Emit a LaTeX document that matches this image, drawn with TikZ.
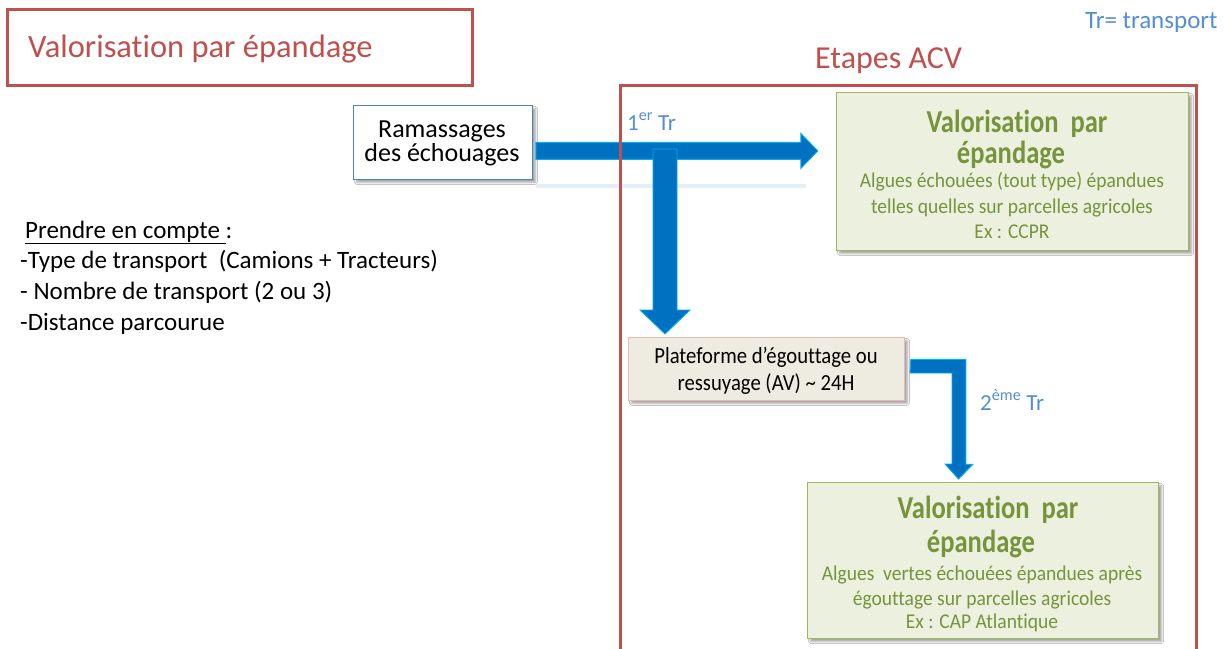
\documentclass[tikz,border=0pt]{standalone}
\usepackage{fontspec}
\defaultfontfeatures{Ligatures={NoCommon}}
\setmainfont{Carlito}
\newfontfamily\plateFont{Carlito}[FakeStretch=0.9]
\newfontfamily\bodyFont{Carlito}[FakeStretch=0.93]
\newfontfamily\headFont{Carlito}[FakeStretch=0.83]
\usetikzlibrary{calc,shadows.blur}
\definecolor{acvred}{HTML}{C0504D}
\definecolor{trblue}{HTML}{558ED5}
\definecolor{arrowfill}{HTML}{0070C0}
\definecolor{arrowedge}{HTML}{00B0F0}
\definecolor{ramedge}{HTML}{4F81BD}
\definecolor{platefill}{HTML}{EEECE1}
\definecolor{plateedge}{HTML}{E6B9B8}
\definecolor{greenfill}{HTML}{EBF1DE}
\definecolor{greenedge}{HTML}{9BBB59}
\definecolor{greentext}{HTML}{77933C}
\definecolor{glow}{HTML}{E6EFF8}
\newcommand{\fs}[1]{\fontsize{#1}{#1}\selectfont}
\begin{document}
\begin{tikzpicture}[x=1pt,y=-1pt,
  txt/.style={inner sep=0pt, anchor=base},
  txtw/.style={inner sep=0pt, anchor=base west},
  boxshadow/.style={blur shadow={shadow xshift=3pt, shadow yshift=-3pt, shadow blur steps=6, shadow opacity=35}},
  redframe/.style={draw=acvred, line width=3pt, inner sep=0pt, anchor=north west},
  rambox/.style={draw=ramedge, line width=0.8pt, fill=white, inner sep=0pt, anchor=north west, boxshadow},
  platebox/.style={draw=plateedge, line width=0.8pt, fill=platefill, inner sep=0pt, anchor=north west, boxshadow},
  greenbox/.style={draw=greenedge, line width=1.2pt, fill=greenfill, inner sep=0pt, anchor=north west, boxshadow},
  blockarrow/.style={fill=arrowfill, draw=arrowedge, line width=0.9pt, line join=miter},
  gtitle/.style={txt, text=greentext, font=\headFont\bfseries\fs{32}},
  gbody/.style={txt, text=greentext, font=\bodyFont\fs{21}},
  trlabel/.style={txtw, text=trblue, font=\fs{23}},
  note/.style={txtw, font=\fs{25}}
]
\useasboundingbox (0,0) rectangle (1229,648);
\fill[white] (0,0) rectangle (1229,648);

% heading
\node[redframe, minimum width=465pt, minimum height=76pt] (titlebox) at (6,8) {};
\node[txtw, text=acvred, font=\fs{32.5}] (title) at (28,57) {Valorisation par épandage};
\node[txtw, text=trblue, font=\fs{25}] (legend) at (1085,28) {Tr= transport};
\node[txtw, text=acvred, font=\fs{32}] (acvlabel) at (815,68) {Etapes ACV};

% notes on the left
\node[note] (note0) at (25,238) {\underline{Prendre en compte }:};
\node[note] (note1) at (20,268) {-Type de transport\ \ (Camions + Tracteurs)};
\node[note] (note2) at (20,299) {- Nombre de transport (2 ou 3)};
\node[note] (note3) at (20,330) {-Distance parcourue};

% collection box
\node[rambox, minimum width=179pt, minimum height=74pt] (ram) at (353,105) {};
\node[txt, font=\fs{26}] (ramA) at (442,137) {Ramassages};
\node[txt, font=\fs{26}] (ramB) at (442,161) {des échouages};

% first transport: horizontal block arrow with its faint reflection
\coordinate (h0) at ($(ram.east)+(3,8.5)$);
\fill[glow] ($(h0)+(0,33)$) rectangle ++(270,4);
\draw[blockarrow] ($(h0)+(0,-8.5)$) -- ++(265,0) -- ++(0,-9) -- ++(17,17.5)
  -- ++(-17,17.5) -- ++(0,-9) -- ++(-265,0) -- cycle;

% branch down to the draining platform
\node[platebox, minimum width=276pt, minimum height=63pt] (plate) at (628,337) {};
\coordinate (v0) at (665,149);
\draw[blockarrow] ($(v0)+(-12,0)$) -- ++(24,0) -- ++(0,161) -- ++(13,0)
  -- ($(plate.north west)+(37,-3)$) -- ++(-25,-24) -- ++(13,0) -- cycle;
\node[txt, font=\plateFont\fs{23}] (plateA) at (766,363) {Plateforme d’égouttage ou};
\node[txt, font=\plateFont\fs{23}] (plateB) at (766,390) {ressuyage (AV) \textasciitilde{} 24H};

\node[trlabel] (tr1) at (627,130) {1\textsuperscript{er} Tr};
\node[trlabel] (tr2) at (980,410) {2\textsuperscript{ème} Tr};

% end-use boxes
\node[greenbox, minimum width=352pt, minimum height=158pt] (g1) at (836,92) {};
\node[gtitle] at (1017,132) {Valorisation\ \ par};
\node[gtitle] at (1011,163) {épandage};
\node[gbody] at (1012,187) {Algues échouées (tout type) épandues};
\node[gbody] at (1012,213) {telles quelles sur parcelles agricoles};
\node[gbody] at (1012,238) {Ex : CCPR};

\node[greenbox, minimum width=351pt, minimum height=156pt] (g2) at (807,482) {};
\node[gtitle] at (988,518) {Valorisation\ \ par};
\node[gtitle] at (981,552) {épandage};
\node[gbody] at (982,580) {Algues\ \ vertes échouées épandues après};
\node[gbody] at (982,605) {égouttage sur parcelles agricoles};
\node[gbody] at (982,628) {Ex : CAP Atlantique};

% second transport: elbow block arrow from the platform to the second box
\coordinate (e0) at ($(plate.east)+(6,-9.5)$);
\draw[blockarrow] (e0) -- ++(55,0) -- ++(0,105) -- ++(7,0)
  -- ($(g2.north west)+(151.5,-3)$) -- ++(-13.5,-15) -- ++(7,0) -- ++(0,-91)
  -- ++(-42,0) -- cycle;

% ACV frame, open at the bottom edge
\node[redframe, minimum width=576pt, minimum height=600pt] (acv) at (619,84) {};
\end{tikzpicture}
\end{document}
